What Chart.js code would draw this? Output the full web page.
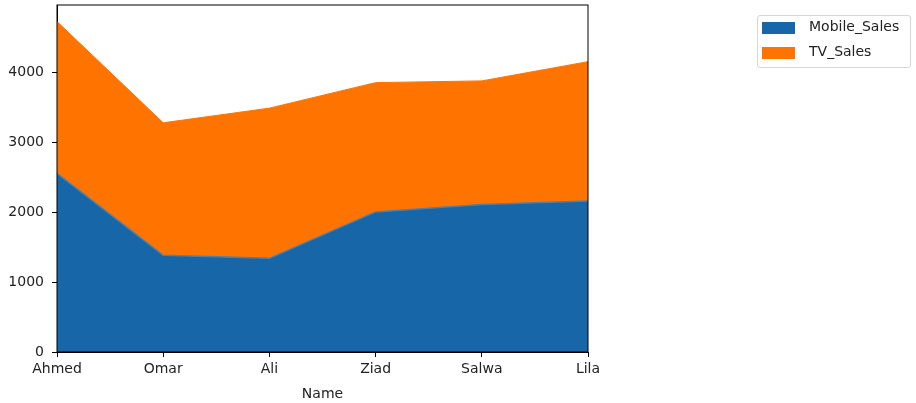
<!DOCTYPE html>
<html>
<head>
<meta charset="utf-8">
<script src="https://cdn.jsdelivr.net/npm/chart.js@4/dist/chart.umd.min.js"></script>
<style>
  body { margin: 0; background: #fff; font-family: "DejaVu Sans", sans-serif; }
  #wrap { position: relative; width: 916px; height: 403px; }
  #legend {
    position: absolute; left: 757px; top: 15px; width: 154px; height: 53px;
    border: 1px solid #d6d6d6; border-radius: 3px; box-sizing: border-box;
  }
  .item { position: absolute; left: 4px; height: 12px; font-size: 14px; color: #222; }
  .swatch { position: absolute; left: 0; top: 0; width: 33px; height: 12px; }
  .label { position: absolute; left: 47px; top: -4px; white-space: nowrap; }
</style>
</head>
<body>
<div id="wrap">
  <canvas id="chart" width="916" height="403"></canvas>
  <div id="legend"></div>
</div>
<script>
// 数据
const names = ['Ahmed', 'Omar', 'Ali', 'Ziad', 'Salwa', 'Lila'];
const mobileSales = [2555, 1385, 1340, 2005, 2110, 2160];
const tvSales = [2175, 1895, 2150, 1850, 1770, 1995];
const yTicks = [0, 1000, 2000, 3000, 4000];

const seriesNames = ['Mobile_Sales', 'TV_Sales'];
const colors = ['#1666a8', '#ff7400'];

// 图例
const legend = document.getElementById('legend');
seriesNames.forEach((name, i) => {
  const item = document.createElement('div');
  item.className = 'item';
  item.style.top = (6 + i * 24.5) + 'px';
  item.innerHTML = `<div class="swatch" style="background:${colors[i]}"></div><span class="label">${name}</span>`;
  legend.appendChild(item);
});

// 四周边框
const frame = {
  id: 'frame',
  afterDraw(chart) {
    const { ctx, chartArea: a } = chart;
    ctx.save();
    ctx.strokeStyle = '#000';
    ctx.lineWidth = 1;
    ctx.strokeRect(a.left, a.top, a.right - a.left, a.bottom - a.top);
    ctx.restore();
  }
};

new Chart(document.getElementById('chart'), {
  type: 'line',
  data: {
    labels: names,
    datasets: [
      {
        label: seriesNames[0],
        data: mobileSales,
        backgroundColor: colors[0],
        borderColor: '#4f7ea6',
        borderWidth: 1.5,
        pointRadius: 0,
        tension: 0,
        fill: 'origin'
      },
      {
        label: seriesNames[1],
        data: tvSales,
        backgroundColor: colors[1],
        borderColor: colors[1],
        borderWidth: 1,
        pointRadius: 0,
        tension: 0,
        fill: '-1'
      }
    ]
  },
  options: {
    responsive: false,
    animation: false,
    layout: { padding: { left: 0, right: 328, top: 5, bottom: 0 } },
    plugins: { legend: { display: false }, tooltip: { enabled: false } },
    scales: {
      x: {
        offset: false,
        grid: { offset: false, drawOnChartArea: false, tickLength: 5, tickColor: '#000' },
        border: { color: '#000' },
        ticks: { color: '#222', font: { size: 14, family: 'DejaVu Sans' }, padding: 4, maxRotation: 0 },
        title: { display: true, text: 'Name', color: '#222', font: { size: 14, family: 'DejaVu Sans' }, padding: { top: 0, bottom: 0 } },
        afterFit: (s) => { s.height = 51; s.paddingLeft = 0; s.paddingRight = 0; }
      },
      y: {
        stacked: true,
        min: 0,
        max: 4966,
        grid: { drawOnChartArea: false, tickLength: 5, tickColor: '#000' },
        border: { color: '#000' },
        ticks: { color: '#222', font: { size: 14, family: 'DejaVu Sans' }, padding: 8, callback: (v) => String(v) },
        afterBuildTicks: (s) => { s.ticks = yTicks.map(v => ({ value: v })); },
        afterFit: (s) => { s.width = 57; s.paddingTop = 0; s.paddingBottom = 0; }
      }
    }
  },
  plugins: [frame]
});
</script>
</body>
</html>
